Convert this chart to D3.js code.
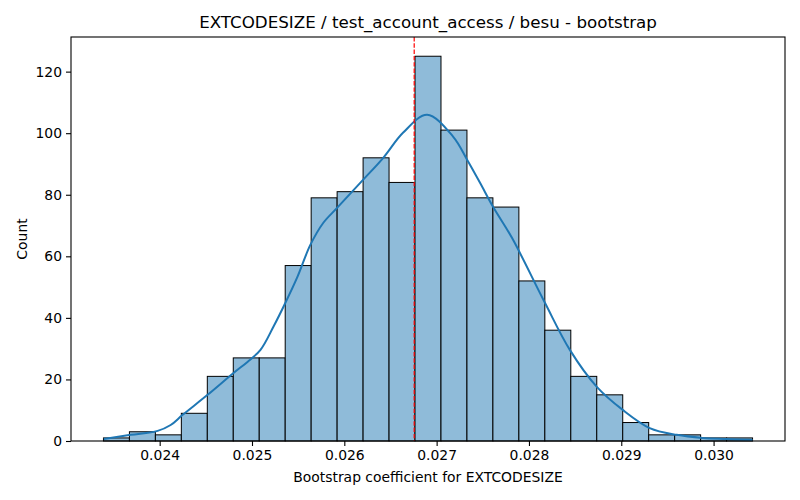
<!DOCTYPE html>
<meta charset="utf-8">
<script src="https://d3js.org/d3.v7.min.js"></script>
<style>
  body { margin: 0; background: #fff; }
  text { font-family: "DejaVu Sans", sans-serif; fill: #000; }
</style>
<div id="my_dataviz"></div>
<script>

// histogram bins (25 bins, left edge of first / right edge of last)
var binStart = 0.023391, binEnd = 0.030422;
var counts = [1, 3, 2, 9, 21, 27, 27, 57, 79, 81, 92, 84, 125, 101, 79, 76, 52, 36, 21, 15, 6, 2, 2, 1, 1];

// kde curve
var kdeX = [0.023395, 0.023686, 0.023978, 0.024119, 0.024249, 0.024519, 0.024800, 0.024951,
            0.025092, 0.025232, 0.025362, 0.025492, 0.025632, 0.025773, 0.025924, 0.026205,
            0.026422, 0.026638, 0.026897, 0.027178, 0.027330, 0.027470, 0.027611, 0.027816,
            0.028173, 0.028443, 0.028735, 0.029016, 0.029308, 0.029600, 0.029881, 0.030141,
            0.030422];
var kdeY = [0.65, 2.0, 3.3, 5.2, 8.5, 15.0, 22.1, 25.7,
            29.6, 37.1, 44.9, 53.3, 63.7, 70.9, 75.8, 84.9,
            92.0, 100.2, 106.0, 98.9, 91.4, 83.9, 76.1, 66.0,
            44.9, 29.6, 17.6, 10.1, 4.2, 2.0, 1.0, 0.65,
            0.3];

var meanValue = 0.026757;
var xTicks = [0.024, 0.025, 0.026, 0.027, 0.028, 0.029, 0.030];
var yTicks = [0, 20, 40, 60, 80, 100, 120];

var titleText = "EXTCODESIZE / test_account_access / besu - bootstrap";
var xLabel = "Bootstrap coefficient for EXTCODESIZE";
var yLabel = "Count";

var margin = {top: 37, right: 15, bottom: 59, left: 71},
    width = 800 - margin.left - margin.right,
    height = 500 - margin.top - margin.bottom;

var svg = d3.select("#my_dataviz")
  .append("svg")
    .attr("width", 800)
    .attr("height", 500)
  .append("g")
    .attr("transform", "translate(" + margin.left + "," + margin.top + ")");

// matplotlib style 5% margins on x
var pad = (binEnd - binStart) * 0.05;
var x = d3.scaleLinear()
  .domain([binStart - pad, binEnd + pad])
  .range([0, width]);

var y = d3.scaleLinear()
  .domain([0, d3.max(counts) * 1.05])
  .range([height, 0]);

var binW = (binEnd - binStart) / counts.length;
var bins = counts.map(function(c, i) {
  return {x0: binStart + i * binW, x1: binStart + (i + 1) * binW, n: c};
});

// bars
svg.selectAll("rect.bar")
  .data(bins)
  .enter()
  .append("rect")
    .attr("class", "bar")
    .attr("x", function(d) { return x(d.x0); })
    .attr("y", function(d) { return y(d.n); })
    .attr("width", function(d) { return x(d.x1) - x(d.x0); })
    .attr("height", function(d) { return y(0) - y(d.n); })
    .style("fill", "#8fbbd9")
    .style("stroke", "#000")
    .style("stroke-width", 1);

// kde
var kde = kdeX.map(function(v, i) { return {x: v, y: kdeY[i]}; });
var line = d3.line()
  .x(function(d) { return x(d.x); })
  .y(function(d) { return y(d.y); })
  .curve(d3.curveCatmullRom.alpha(0.5));
svg.append("path")
  .datum(kde)
  .attr("d", line)
  .style("fill", "none")
  .style("stroke", "#1f77b4")
  .style("stroke-width", 2);

// mean line
svg.append("line")
  .attr("x1", x(meanValue)).attr("x2", x(meanValue))
  .attr("y1", 0).attr("y2", height)
  .style("stroke", "red")
  .style("stroke-width", 1.2)
  .style("stroke-dasharray", "4.4,1.9");

// axes
var xAxis = svg.append("g")
  .attr("transform", "translate(0," + height + ")")
  .call(d3.axisBottom(x).tickValues(xTicks).tickFormat(d3.format(".3f")).tickSizeOuter(0).tickSize(5).tickPadding(4));
var yAxis = svg.append("g")
  .call(d3.axisLeft(y).tickValues(yTicks).tickSizeOuter(0).tickSize(5).tickPadding(4));

[xAxis, yAxis].forEach(function(a) {
  a.select(".domain").remove();
  a.selectAll("line").style("stroke", "#000").style("stroke-width", 1.1);
  a.selectAll("text").style("font-size", "13.9px").style("font-family", "DejaVu Sans");
});

// frame
svg.append("rect")
  .attr("width", width).attr("height", height)
  .style("fill", "none")
  .style("stroke", "#000")
  .style("stroke-width", 1.1);

// labels
svg.append("text")
  .attr("x", width / 2)
  .attr("y", -9)
  .attr("text-anchor", "middle")
  .style("font-size", "16.7px")
  .text(titleText);

svg.append("text")
  .attr("x", width / 2)
  .attr("y", height + 41)
  .attr("text-anchor", "middle")
  .style("font-size", "13.9px")
  .text(xLabel);

svg.append("text")
  .attr("transform", "rotate(-90)")
  .attr("x", -height / 2)
  .attr("y", -44)
  .attr("text-anchor", "middle")
  .style("font-size", "13.9px")
  .text(yLabel);

</script>
